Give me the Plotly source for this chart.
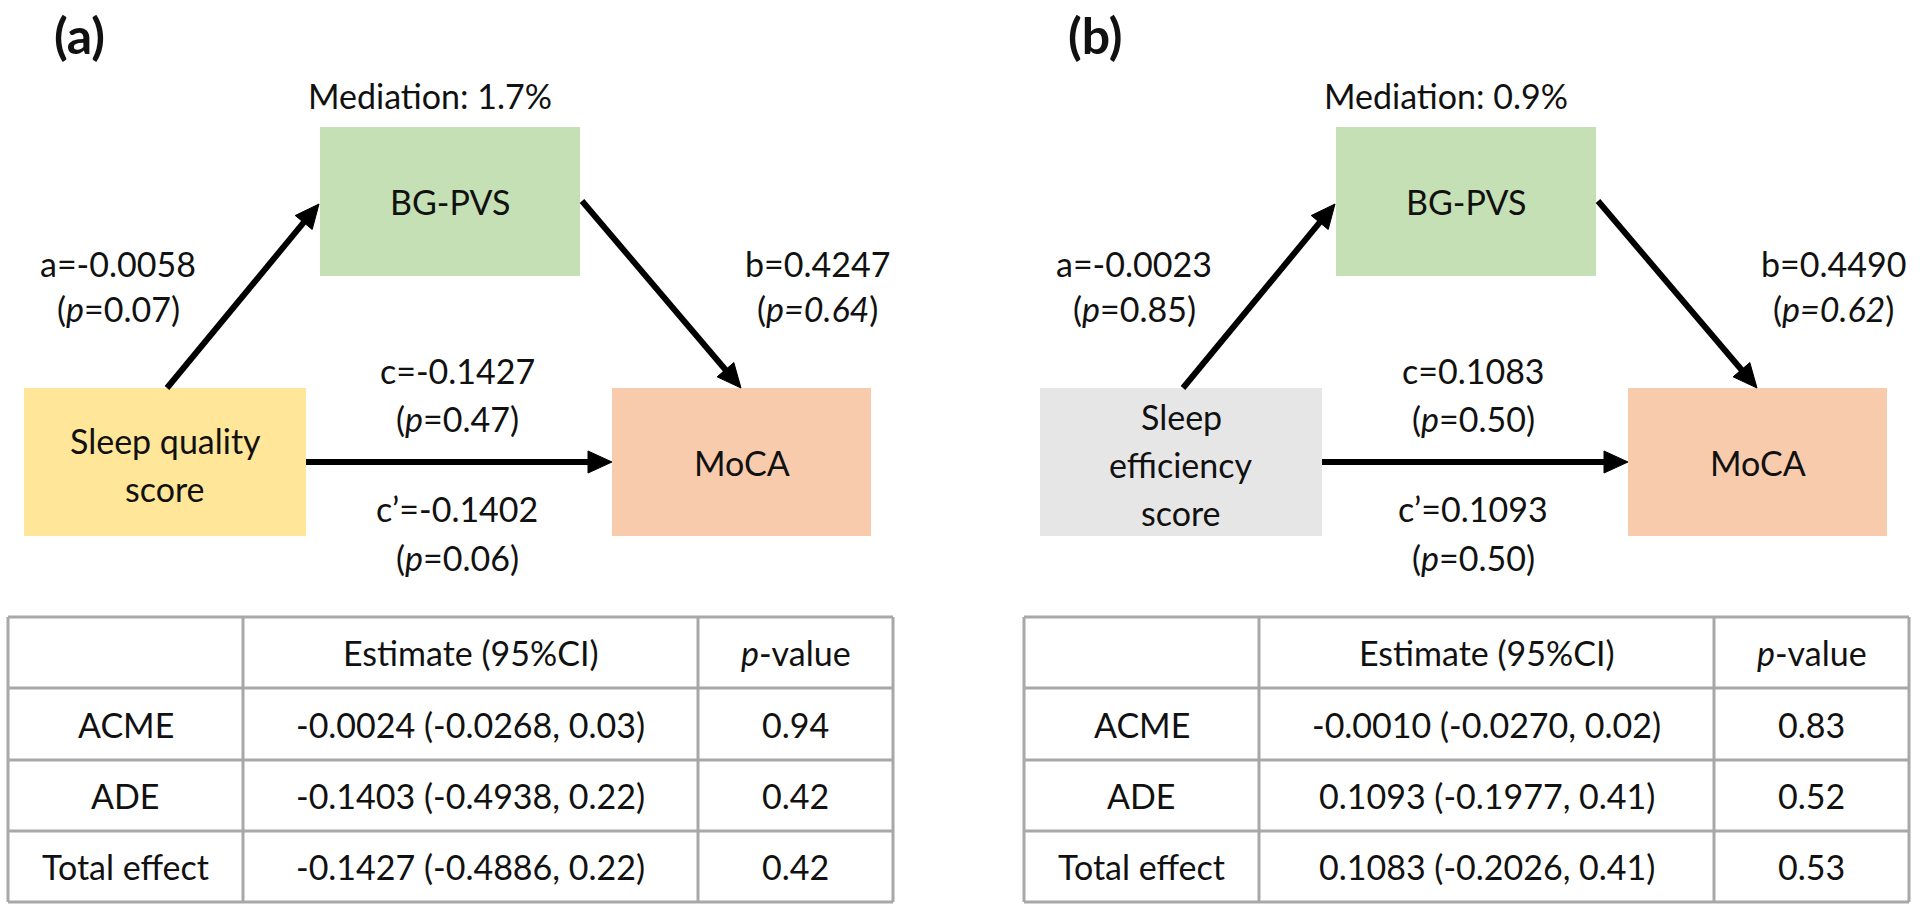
import plotly.graph_objects as go

# ---------------- data ----------------
panel_labels = ["(a)", "(b)"]
mediation_pct = [1.7, 0.9]
exposure_names = ["Sleep quality<br>score", "Sleep<br>efficiency<br>score"]
exposure_colors = ["#FFE699", "#E7E6E6"]
mediator_name = "BG-PVS"
outcome_name = "MoCA"
a_coef = [-0.0058, -0.0023]
a_p = [0.07, 0.85]
b_coef = [0.4247, 0.4490]
b_p = [0.64, 0.62]
c_coef = [-0.1427, 0.1083]
c_p = [0.47, 0.50]
cprime_coef = [-0.1402, 0.1093]
cprime_p = [0.06, 0.50]

table_header = ["", "Estimate (95%CI)", "<i>p</i>-value"]
table_rows = ["ACME", "ADE", "Total effect"]
est_a = [-0.0024, -0.1403, -0.1427]
lo_a = [-0.0268, -0.4938, -0.4886]
hi_a = [0.03, 0.22, 0.22]
pval_a = [0.94, 0.42, 0.42]
est_b = [-0.0010, 0.1093, 0.1083]
lo_b = [-0.0270, -0.1977, -0.2026]
hi_b = [0.02, 0.41, 0.41]
pval_b = [0.83, 0.52, 0.53]

# ---------------- layout geometry (pixels) ----------------
W, H = 1920, 917
panel_dx = [0, 1016]
FONT = "Lato, 'Open Sans', sans-serif"
FS = 34
TXT = "#111111"
exp_box = (24, 388, 306, 536)
med_box = (320, 127, 580, 276)
out_box = (612, 388, 871, 536)
arrow_a = ((167, 388), (319, 204))
arrow_b = ((582, 201), (741, 388))
arrow_c = ((306, 462), (612, 462))
tab_cols = [8, 243, 698, 893]
tab_rows_y = [617, 688, 760, 831, 902]

fig = go.Figure()
shapes, annots = [], []


def text(x, y, s, size=FS, bold=False):
    annots.append(dict(x=x, y=y, xref="x", yref="y", text=s, showarrow=False,
                       xanchor="center", yanchor="middle",
                       font=dict(family=FONT, size=size, color=TXT,
                                 weight="bold" if bold else "normal")))


def rect(box, color, dx):
    x0, y0, x1, y1 = box
    shapes.append(dict(type="rect", xref="x", yref="y", x0=x0 + dx, y0=y0, x1=x1 + dx, y1=y1,
                       fillcolor=color, line=dict(width=0), layer="below"))


def arrow(p0, p1, dx, width=6, head_len=24, head_half=11):
    (x0, y0), (x1, y1) = p0, p1
    x0 += dx; x1 += dx
    L = ((x1 - x0) ** 2 + (y1 - y0) ** 2) ** 0.5
    ux, uy = (x1 - x0) / L, (y1 - y0) / L
    bx, by = x1 - ux * head_len, y1 - uy * head_len
    shapes.append(dict(type="line", xref="x", yref="y", x0=x0, y0=y0, x1=bx + ux * 2, y1=by + uy * 2,
                       line=dict(color="black", width=width)))
    px, py = -uy, ux
    path = (f"M {x1},{y1} L {bx + px * head_half},{by + py * head_half} "
            f"L {bx - px * head_half},{by - py * head_half} Z")
    shapes.append(dict(type="path", xref="x", yref="y", path=path, fillcolor="black",
                       line=dict(color="black", width=1)))


for i, dx in enumerate(panel_dx):
    # panel label
    text(79 + dx, 35, f"<b>{panel_labels[i]}</b>", size=50, bold=True)
    text(430 + dx, 95, f"Mediation: {mediation_pct[i]:.1f}%")
    # boxes
    rect(exp_box, exposure_colors[i], dx)
    rect(med_box, "#C5E0B4", dx)
    rect(out_box, "#F8CBAD", dx)
    # box labels
    lines = exposure_names[i].split("<br>")
    cy = (exp_box[1] + exp_box[3]) / 2
    step = 48
    for k, ln in enumerate(lines):
        text((exp_box[0] + exp_box[2]) / 2 + dx, cy + 2 + (k - (len(lines) - 1) / 2) * step, ln)
    text((med_box[0] + med_box[2]) / 2 + dx, (med_box[1] + med_box[3]) / 2, mediator_name)
    text((out_box[0] + out_box[2]) / 2 + dx, (out_box[1] + out_box[3]) / 2, outcome_name)
    # arrows
    arrow(*arrow_a, dx)
    arrow(*arrow_b, dx)
    arrow(*arrow_c, dx)
    # path coefficients
    text(118 + dx, 263, f"a={a_coef[i]:.4f}")
    text(118 + dx, 308, f"(<i>p</i>={a_p[i]:.2f})")
    text(817 + dx, 263, f"b={b_coef[i]:.4f}")
    text(817 + dx, 308, f"(<i>p={b_p[i]:.2f}</i>)")
    text(457 + dx, 370, f"c={c_coef[i]:.4f}")
    text(457 + dx, 418, f"(<i>p</i>={c_p[i]:.2f})")
    text(457 + dx, 508, f"c\u2019={cprime_coef[i]:.4f}")
    text(457 + dx, 557, f"(<i>p</i>={cprime_p[i]:.2f})")

    # table
    est, lo, hi, pv = (est_a, lo_a, hi_a, pval_a) if i == 0 else (est_b, lo_b, hi_b, pval_b)
    gc = "#A8A8A8"
    for yv in tab_rows_y:
        shapes.append(dict(type="line", xref="x", yref="y", x0=tab_cols[0] + dx, x1=tab_cols[-1] + dx,
                           y0=yv, y1=yv, line=dict(color=gc, width=3)))
    for xv in tab_cols:
        shapes.append(dict(type="line", xref="x", yref="y", x0=xv + dx, x1=xv + dx,
                           y0=tab_rows_y[0], y1=tab_rows_y[-1], line=dict(color=gc, width=3)))
    ccx = [(tab_cols[j] + tab_cols[j + 1]) / 2 + dx for j in range(3)]
    ccy = [(tab_rows_y[j] + tab_rows_y[j + 1]) / 2 for j in range(4)]
    for j, h in enumerate(table_header):
        if h:
            text(ccx[j], ccy[0], h)
    for r, name in enumerate(table_rows):
        text(ccx[0], ccy[r + 1], name)
        text(ccx[1], ccy[r + 1], f"{est[r]:.4f} ({lo[r]:.4f}, {hi[r]:.2f})")
        text(ccx[2], ccy[r + 1], f"{pv[r]:.2f}")

fig.update_layout(
    width=W, height=H, margin=dict(l=0, r=0, t=0, b=0),
    paper_bgcolor="white", plot_bgcolor="white",
    xaxis=dict(range=[0, W], visible=False, fixedrange=True),
    yaxis=dict(range=[H, 0], visible=False, fixedrange=True),
    shapes=shapes, annotations=annots, showlegend=False,
)
fig.write_html("out.html", config={"displayModeBar": False},
               post_script="document.body.style.margin='0';document.body.style.overflow='hidden';")
